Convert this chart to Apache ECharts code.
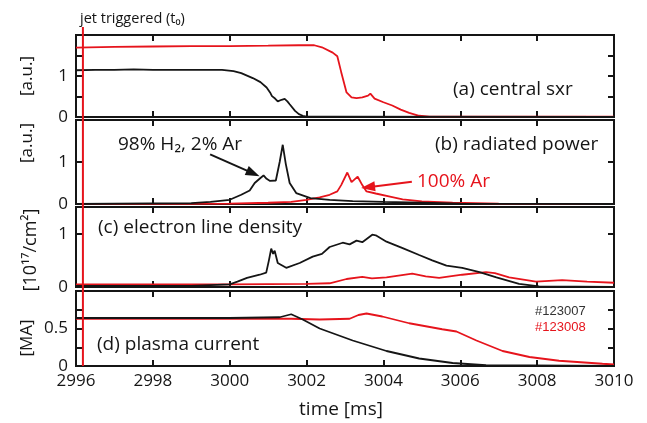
<!DOCTYPE html>
<html><head><meta charset="utf-8">
<script src="https://cdn.jsdelivr.net/npm/echarts@6/dist/echarts.min.js"></script>
<style>html,body{margin:0;padding:0;background:#fff}#c{width:647px;height:423px}</style>
</head><body><div id="c"></div><script>
// ---- data (time in ms, value in panel units) ----
const timeMin = 2996, timeMax = 3010, timeStep = 2;
const jetTime = 2996.18;

const sxr123007 = [[2996,1.14],[2996.5,1.15],[2997,1.15],[2997.5,1.16],[2998,1.15],[2998.5,1.15],[2999,1.15],[2999.5,1.15],[2999.8,1.15],[3000.1,1.12],[3000.3,1.07],[3000.6,0.95],[3000.8,0.85],[3000.96,0.72],[3001.05,0.6],[3001.1,0.51],[3001.18,0.45],[3001.25,0.38],[3001.35,0.42],[3001.43,0.44],[3001.5,0.38],[3001.56,0.31],[3001.7,0.15],[3001.8,0.07],[3001.9,0.03],[3002,0.01],[3002.5,0.01],[3010,0.0]];
const sxr123008 = [[2996,1.69],[2997,1.71],[2998,1.72],[2999,1.73],[3000,1.73],[3001,1.74],[3001.8,1.75],[3002.2,1.75],[3002.4,1.7],[3002.68,1.57],[3002.8,1.48],[3002.9,1.1],[3003.04,0.6],[3003.17,0.48],[3003.3,0.46],[3003.45,0.48],[3003.6,0.52],[3003.66,0.57],[3003.77,0.45],[3004,0.36],[3004.23,0.28],[3004.45,0.18],[3004.67,0.1],[3004.93,0.03],[3005.2,0.01],[3010,0.01]];

const prad123007 = [[2996,0],[2999,0.02],[2999.5,0.05],[3000,0.1],[3000.3,0.22],[3000.52,0.32],[3000.65,0.5],[3000.8,0.62],[3000.88,0.68],[3000.96,0.6],[3001.05,0.55],[3001.2,0.56],[3001.3,1.0],[3001.38,1.41],[3001.46,0.95],[3001.56,0.5],[3001.73,0.26],[3002.1,0.14],[3002.6,0.1],[3003.2,0.07],[3004,0.05],[3005,0.03],[3006,0.01],[3010,0.0]];
const prad123008 = [[2996,0],[3000,0.01],[3001,0.03],[3001.6,0.05],[3002,0.1],[3002.34,0.16],[3002.6,0.22],[3002.8,0.3],[3002.9,0.45],[3003.06,0.75],[3003.17,0.52],[3003.33,0.65],[3003.45,0.45],[3003.56,0.3],[3003.8,0.25],[3004.2,0.17],[3004.5,0.11],[3005,0.06],[3005.8,0.03],[3007,0.01],[3010,0.0]];

const ne123007 = [[2996,0.02],[2999,0.02],[3000,0.05],[3000.2,0.1],[3000.45,0.17],[3000.78,0.23],[3000.95,0.27],[3001.02,0.5],[3001.08,0.72],[3001.13,0.62],[3001.17,0.68],[3001.25,0.45],[3001.47,0.36],[3001.82,0.45],[3002.16,0.57],[3002.4,0.62],[3002.6,0.75],[3002.94,0.83],[3003.12,0.8],[3003.3,0.87],[3003.45,0.84],[3003.71,0.98],[3003.8,0.97],[3004.08,0.85],[3004.5,0.73],[3004.93,0.6],[3005.27,0.5],[3005.64,0.4],[3006.05,0.36],[3006.5,0.28],[3006.94,0.18],[3007.53,0.06],[3008.05,0.01],[3010,0.0]];
const ne123008 = [[2996,0.05],[3000,0.05],[3002,0.06],[3002.6,0.07],[3003.04,0.15],[3003.45,0.19],[3003.7,0.16],[3004.08,0.18],[3004.75,0.25],[3005.1,0.2],[3005.45,0.17],[3006.05,0.23],[3006.67,0.28],[3006.9,0.26],[3007.27,0.18],[3007.97,0.1],[3008.65,0.13],[3009.3,0.1],[3010,0.08]];

const ip123007 = [[2996,0.64],[2998,0.64],[3000,0.64],[3001.3,0.65],[3001.6,0.69],[3001.9,0.62],[3002.34,0.5],[3003.2,0.34],[3004.08,0.2],[3004.93,0.1],[3005.8,0.04],[3006.67,0.01],[3010,0.0]];
const ip123008 = [[2996,0.63],[2998,0.63],[3000,0.63],[3001.6,0.63],[3002.34,0.62],[3003.12,0.63],[3003.35,0.68],[3003.56,0.70],[3003.97,0.66],[3004.67,0.57],[3005.53,0.49],[3005.9,0.46],[3006.42,0.34],[3007.1,0.2],[3007.8,0.12],[3008.57,0.07],[3009.7,0.03],[3010,0.02]];

const arrowH2 = [[2999.49,1.18],[3000.61,0.73]];
const arrowAr = [[3004.74,0.53],[3003.6,0.40]];

const yRanges = [[0,2],[0,2],[0,1.5],[0,1]];
const yIntervals = [0.5, 1, 1, 0.25];
const yLabelVals = [[0,1],[0,1],[0,1],[0,0.5]];
const yNames = ['[a.u.]','[a.u.]','[10¹⁷/cm²]','[MA]'];
const panelTitles = ['(a) central sxr','(b) radiated power','(c) electron line density','(d) plasma current'];
const shotLabels = ['#123007','#123008'];

// ---- layout ----
const BLACK = '#151515', RED = '#e6141c';
const FONT = '"Open Sans", "Noto Sans", sans-serif';
const grids = [
  {left:76, width:538, top:35, height:82},
  {left:76, width:538, top:120, height:84},
  {left:76, width:538, top:207, height:80},
  {left:76, width:538, top:291, height:75}
];
const pairs = [[sxr123007,sxr123008],[prad123007,prad123008],[ne123007,ne123008],[ip123007,ip123008]];

const tick = ()=>({show:true, inside:true, length:6, lineStyle:{color:BLACK, width:2}});
const axLine = ()=>({show:true, onZero:false, lineStyle:{color:BLACK, width:2}});
const xAxes = [], yAxes = [], series = [];
grids.forEach((g,i)=>{
  g.show = true; g.borderColor = BLACK; g.borderWidth = 2;
  xAxes.push({type:'value', gridIndex:i, position:'bottom', min:timeMin, max:timeMax, interval:timeStep,
    axisLine:axLine(), splitLine:{show:false}, axisTick:tick(),
    axisLabel:{show:i===3, margin:7, color:BLACK, fontSize:17, fontFamily:FONT, formatter:v=>String(v)}});
  xAxes.push({type:'value', gridIndex:i, position:'top', min:timeMin, max:timeMax, interval:timeStep,
    axisLine:axLine(), splitLine:{show:false}, axisTick:tick(), axisLabel:{show:false}});
  const lv = yLabelVals[i];
  yAxes.push({type:'value', gridIndex:i, position:'left', min:yRanges[i][0], max:yRanges[i][1], interval:yIntervals[i],
    axisLine:axLine(), splitLine:{show:false}, axisTick:tick(),
    axisLabel:{show:true, margin:8, color:BLACK, fontSize:17, fontFamily:FONT,
      formatter:v=> lv.some(t=>Math.abs(t-v)<1e-9) ? String(v) : ''}});
  yAxes.push({type:'value', gridIndex:i, position:'right', min:yRanges[i][0], max:yRanges[i][1], interval:yIntervals[i],
    axisLine:axLine(), splitLine:{show:false}, axisTick:tick(), axisLabel:{show:false}});
  const cols = [BLACK, RED];
  const order = (i===0||i===3) ? [1,0] : [0,1];
  order.forEach(k=>{
    const s = {type:'line', name:shotLabels[k], xAxisIndex:2*i, yAxisIndex:2*i, data:pairs[i][k],
      showSymbol:false, symbol:'none', lineStyle:{color:cols[k], width:1.8}, itemStyle:{color:cols[k]},
      animation:false, z:k===0?3:2};
    if (i===1) {
      const arr = k===0 ? arrowH2 : arrowAr;
      s.markLine = {silent:true, animation:false, symbol:['none','triangle'], symbolSize:[10,14],
        label:{show:false}, lineStyle:{color:cols[k], width:2, type:'solid'},
        data:[[{coord:arr[0]},{coord:arr[1]}]]};
    }
    series.push(s);
  });
});

const chart = echarts.init(document.getElementById('c'));
chart.setOption({animation:false, backgroundColor:'#fff', grid:grids, xAxis:xAxes, yAxis:yAxes, series:series});

const jx = chart.convertToPixel({xAxisIndex:0}, jetTime);
function txt(t, x, y, size, color){
  return {type:'text', x:x, y:y, silent:true, z:50,
    style:{text:t, font:size+'px '+FONT, fill:color, textAlign:'left', textVerticalAlign:'middle'}};
}
const yNameY = [76, 143, 250, 338];
const yNameX = [27, 27, 31, 27];
const yNameSize = [17, 17, 18, 17];
const g = [
  {type:'line', silent:true, z:60, shape:{x1:jx, y1:27, x2:jx, y2:366}, style:{stroke:RED, lineWidth:2}},
  txt('jet triggered (t₀)', 80, 19, 14.5, BLACK),
  txt(panelTitles[0], 453, 90, 19, BLACK),
  txt(panelTitles[1], 435, 145, 19, BLACK),
  txt('98% H₂, 2% Ar', 118, 145, 19, BLACK),
  txt('100% Ar', 417, 182, 19, RED),
  txt(panelTitles[2], 98, 228, 19, BLACK),
  txt(panelTitles[3], 97, 345, 19, BLACK),
  {type:'text', x:535, y:311, silent:true, z:50, style:{text:shotLabels[0], font:'13px "Liberation Sans", Arial, sans-serif', fill:'#333', textVerticalAlign:'middle'}},
  {type:'text', x:535, y:327, silent:true, z:50, style:{text:shotLabels[1], font:'13px "Liberation Sans", Arial, sans-serif', fill:RED, textVerticalAlign:'middle'}},
  {type:'text', x:341, y:410, silent:true, z:50, style:{text:'time [ms]', font:'19px '+FONT, fill:BLACK, textAlign:'center', textVerticalAlign:'middle'}}
];
yNames.forEach((n,i)=>{
  g.push({type:'text', x:yNameX[i], y:yNameY[i], rotation:Math.PI/2, silent:true, z:50,
    style:{text:n, font:yNameSize[i]+'px '+FONT, fill:BLACK, textAlign:'center', textVerticalAlign:'middle'}});
});
chart.setOption({graphic:g});
</script></body></html>
